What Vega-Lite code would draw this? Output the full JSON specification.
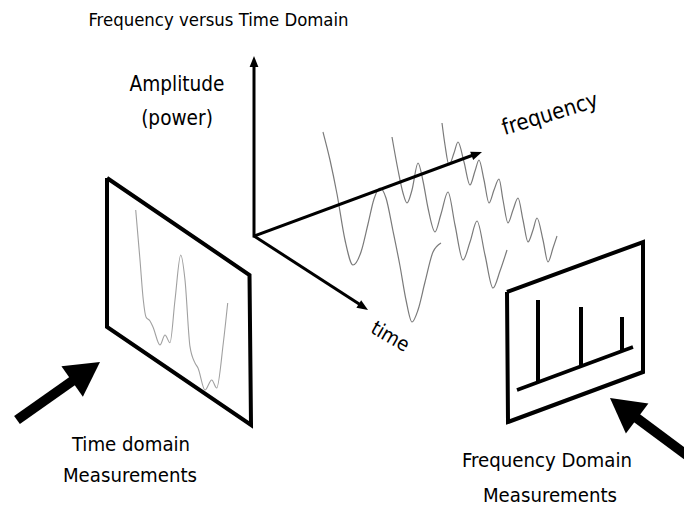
{
  "$schema": "https://vega.github.io/schema/vega-lite/v6.json",
  "width": 684,
  "height": 508,
  "padding": 0,
  "autosize": {"type": "none"},
  "background": "white",
  "config": {"view": {"stroke": null}, "font": "DejaVu Sans Condensed"},
  "datasets": {
    "panels": [
      {"panel": "time", "seq": 1, "x": 107, "y": 178},
      {"panel": "time", "seq": 2, "x": 249.5, "y": 275},
      {"panel": "time", "seq": 3, "x": 251, "y": 425},
      {"panel": "time", "seq": 4, "x": 107, "y": 327},
      {"panel": "time", "seq": 5, "x": 107, "y": 178},
      {"panel": "freq", "seq": 1, "x": 507, "y": 292},
      {"panel": "freq", "seq": 2, "x": 643, "y": 242},
      {"panel": "freq", "seq": 3, "x": 643, "y": 372},
      {"panel": "freq", "seq": 4, "x": 508, "y": 422},
      {"panel": "freq", "seq": 5, "x": 507, "y": 292}
    ],
    "waves": [
      {"wave": "A", "x": 323, "y": 132}, {"wave": "A", "x": 330, "y": 160}, {"wave": "A", "x": 337, "y": 194},
      {"wave": "A", "x": 345, "y": 240}, {"wave": "A", "x": 353, "y": 265}, {"wave": "A", "x": 361, "y": 252},
      {"wave": "A", "x": 368, "y": 224}, {"wave": "A", "x": 374, "y": 199}, {"wave": "A", "x": 380, "y": 188},
      {"wave": "A", "x": 386, "y": 198}, {"wave": "A", "x": 393, "y": 231}, {"wave": "A", "x": 400, "y": 266},
      {"wave": "A", "x": 406, "y": 300}, {"wave": "A", "x": 412, "y": 322}, {"wave": "A", "x": 418, "y": 310},
      {"wave": "A", "x": 425, "y": 282}, {"wave": "A", "x": 433, "y": 252}, {"wave": "A", "x": 441, "y": 243},
      {"wave": "B", "x": 392, "y": 137}, {"wave": "B", "x": 398, "y": 170}, {"wave": "B", "x": 403, "y": 193},
      {"wave": "B", "x": 407, "y": 203}, {"wave": "B", "x": 412, "y": 190}, {"wave": "B", "x": 418, "y": 163},
      {"wave": "B", "x": 423, "y": 181}, {"wave": "B", "x": 428, "y": 208}, {"wave": "B", "x": 435, "y": 232},
      {"wave": "B", "x": 441, "y": 214}, {"wave": "B", "x": 448, "y": 192}, {"wave": "B", "x": 455, "y": 225},
      {"wave": "B", "x": 463, "y": 260}, {"wave": "B", "x": 470, "y": 242}, {"wave": "B", "x": 477, "y": 221},
      {"wave": "B", "x": 485, "y": 255}, {"wave": "B", "x": 493, "y": 288}, {"wave": "B", "x": 500, "y": 271},
      {"wave": "B", "x": 507, "y": 250},
      {"wave": "C", "x": 442, "y": 123}, {"wave": "C", "x": 445, "y": 145}, {"wave": "C", "x": 449, "y": 165},
      {"wave": "C", "x": 454, "y": 153}, {"wave": "C", "x": 458, "y": 142}, {"wave": "C", "x": 464, "y": 162},
      {"wave": "C", "x": 470, "y": 185}, {"wave": "C", "x": 475, "y": 171}, {"wave": "C", "x": 479, "y": 160},
      {"wave": "C", "x": 484, "y": 180}, {"wave": "C", "x": 489, "y": 203}, {"wave": "C", "x": 494, "y": 190},
      {"wave": "C", "x": 499, "y": 179}, {"wave": "C", "x": 503, "y": 200}, {"wave": "C", "x": 508, "y": 223},
      {"wave": "C", "x": 513, "y": 210}, {"wave": "C", "x": 518, "y": 198}, {"wave": "C", "x": 523, "y": 220},
      {"wave": "C", "x": 528, "y": 242}, {"wave": "C", "x": 533, "y": 230}, {"wave": "C", "x": 537, "y": 218},
      {"wave": "C", "x": 543, "y": 240}, {"wave": "C", "x": 548, "y": 262}, {"wave": "C", "x": 553, "y": 248},
      {"wave": "C", "x": 557, "y": 236}
    ],
    "panelwave": [
      {"x": 135.7, "y": 210}, {"x": 140, "y": 260}, {"x": 143.3, "y": 300}, {"x": 146, "y": 317},
      {"x": 150, "y": 321}, {"x": 153, "y": 327}, {"x": 160, "y": 345}, {"x": 165, "y": 335},
      {"x": 170, "y": 342.7}, {"x": 175, "y": 300}, {"x": 180.7, "y": 255}, {"x": 185, "y": 280},
      {"x": 190, "y": 346.7}, {"x": 195, "y": 363}, {"x": 198, "y": 368}, {"x": 205, "y": 390},
      {"x": 211.7, "y": 380}, {"x": 216.7, "y": 388}, {"x": 223.3, "y": 343}, {"x": 227.7, "y": 303}
    ],
    "segments": [
      {"kind": "axis", "x": 254, "y": 237.5, "x2": 254, "y2": 64},
      {"kind": "axis", "x": 254, "y": 236, "x2": 476, "y2": 154},
      {"kind": "axis", "x": 254, "y": 236, "x2": 363, "y2": 306.5},
      {"kind": "spike", "x": 538, "y": 300, "x2": 538, "y2": 383},
      {"kind": "spike", "x": 581, "y": 307, "x2": 581, "y2": 367},
      {"kind": "spike", "x": 622, "y": 317, "x2": 622, "y2": 352},
      {"kind": "base", "x": 517, "y": 390, "x2": 633, "y2": 347},
      {"kind": "shaft", "x": 17, "y": 420, "x2": 78, "y2": 377},
      {"kind": "shaft", "x": 634, "y": 416, "x2": 700, "y2": 465}
    ],
    "heads": [
      {"kind": "small", "x": 254, "y": 56, "angle": 0},
      {"kind": "small", "x": 482, "y": 152, "angle": 70},
      {"kind": "small", "x": 368, "y": 310, "angle": 123},
      {"kind": "big", "x": 100, "y": 362, "angle": 55},
      {"kind": "big", "x": 610, "y": 398, "angle": -53}
    ],
    "labels": [
      {"role": "title", "text": "Frequency versus Time Domain", "x": 218.5, "y": 26},
      {"role": "amp", "text": "Amplitude", "x": 177, "y": 91},
      {"role": "amp", "text": "(power)", "x": 177, "y": 125},
      {"role": "caption", "text": "Time domain", "x": 131, "y": 451},
      {"role": "caption", "text": "Measurements", "x": 130, "y": 482},
      {"role": "caption", "text": "Frequency Domain", "x": 547, "y": 467},
      {"role": "caption", "text": "Measurements", "x": 550, "y": 502},
      {"role": "freq", "text": "frequency", "x": 550, "y": 114},
      {"role": "time", "text": "time", "x": 390, "y": 337}
    ]
  },
  "encoding": {
    "x": {"field": "x", "type": "quantitative", "scale": {"domain": [0, 684], "nice": false, "zero": false}, "axis": null},
    "y": {"field": "y", "type": "quantitative", "scale": {"domain": [0, 508], "reverse": true, "nice": false, "zero": false}, "axis": null}
  },
  "layer": [
    {
      "data": {"name": "waves"},
      "mark": {"type": "line", "interpolate": "monotone", "stroke": "#7a7a7a", "strokeWidth": 1.2},
      "encoding": {"detail": {"field": "wave", "type": "nominal"}}
    },
    {
      "data": {"name": "panelwave"},
      "mark": {"type": "line", "interpolate": "monotone", "stroke": "#a0a0a0", "strokeWidth": 1.1},
      "encoding": {}
    },
    {
      "data": {"name": "panels"},
      "mark": {"type": "line", "stroke": "black", "strokeWidth": 4, "strokeJoin": "miter"},
      "encoding": {
        "detail": {"field": "panel", "type": "nominal"},
        "order": {"field": "seq", "type": "quantitative"}
      }
    },
    {
      "data": {"name": "segments"},
      "transform": [{"filter": "datum.kind === 'axis'"}],
      "mark": {"type": "rule", "stroke": "black", "strokeWidth": 3},
      "encoding": {"x2": {"field": "x2"}, "y2": {"field": "y2"}}
    },
    {
      "data": {"name": "segments"},
      "transform": [{"filter": "datum.kind === 'spike'"}],
      "mark": {"type": "rule", "stroke": "black", "strokeWidth": 4},
      "encoding": {"x2": {"field": "x2"}, "y2": {"field": "y2"}}
    },
    {
      "data": {"name": "segments"},
      "transform": [{"filter": "datum.kind === 'base'"}],
      "mark": {"type": "rule", "stroke": "black", "strokeWidth": 3.5},
      "encoding": {"x2": {"field": "x2"}, "y2": {"field": "y2"}}
    },
    {
      "data": {"name": "segments"},
      "transform": [{"filter": "datum.kind === 'shaft'"}],
      "mark": {"type": "rule", "stroke": "black", "strokeWidth": 10, "strokeCap": "butt"},
      "encoding": {"x2": {"field": "x2"}, "y2": {"field": "y2"}}
    },
    {
      "data": {"name": "heads"},
      "transform": [{"filter": "datum.kind === 'small'"}],
      "mark": {"type": "point", "shape": "M0,0L0.8,2L-0.8,2Z", "filled": true, "color": "black", "opacity": 1, "size": 121, "strokeWidth": 0},
      "encoding": {"angle": {"field": "angle", "type": "quantitative", "scale": null}}
    },
    {
      "data": {"name": "heads"},
      "transform": [{"filter": "datum.kind === 'big'"}],
      "mark": {"type": "point", "shape": "M0,0L1.1,2L-1.1,2Z", "filled": true, "color": "black", "opacity": 1, "size": 1156, "strokeWidth": 0},
      "encoding": {"angle": {"field": "angle", "type": "quantitative", "scale": null}}
    },
    {
      "data": {"name": "labels"},
      "transform": [{"filter": "datum.role === 'title'"}],
      "mark": {"type": "text", "font": "DejaVu Sans Condensed", "fontSize": 18.4, "align": "center", "baseline": "alphabetic", "color": "black"},
      "encoding": {"text": {"field": "text"}}
    },
    {
      "data": {"name": "labels"},
      "transform": [{"filter": "datum.role === 'amp'"}],
      "mark": {"type": "text", "font": "DejaVu Sans Condensed", "fontSize": 20.6, "align": "center", "baseline": "alphabetic", "color": "black"},
      "encoding": {"text": {"field": "text"}}
    },
    {
      "data": {"name": "labels"},
      "transform": [{"filter": "datum.role === 'caption'"}],
      "mark": {"type": "text", "font": "DejaVu Sans Condensed", "fontSize": 20.2, "align": "center", "baseline": "alphabetic", "color": "black"},
      "encoding": {"text": {"field": "text"}}
    },
    {
      "data": {"name": "labels"},
      "transform": [{"filter": "datum.role === 'freq'"}],
      "mark": {"type": "text", "font": "DejaVu Sans Condensed", "fontSize": 22, "align": "center", "baseline": "middle", "angle": -17, "color": "black"},
      "encoding": {"text": {"field": "text"}}
    },
    {
      "data": {"name": "labels"},
      "transform": [{"filter": "datum.role === 'time'"}],
      "mark": {"type": "text", "font": "DejaVu Sans Condensed", "fontSize": 20, "align": "center", "baseline": "middle", "angle": 30, "color": "black"},
      "encoding": {"text": {"field": "text"}}
    }
  ]
}
